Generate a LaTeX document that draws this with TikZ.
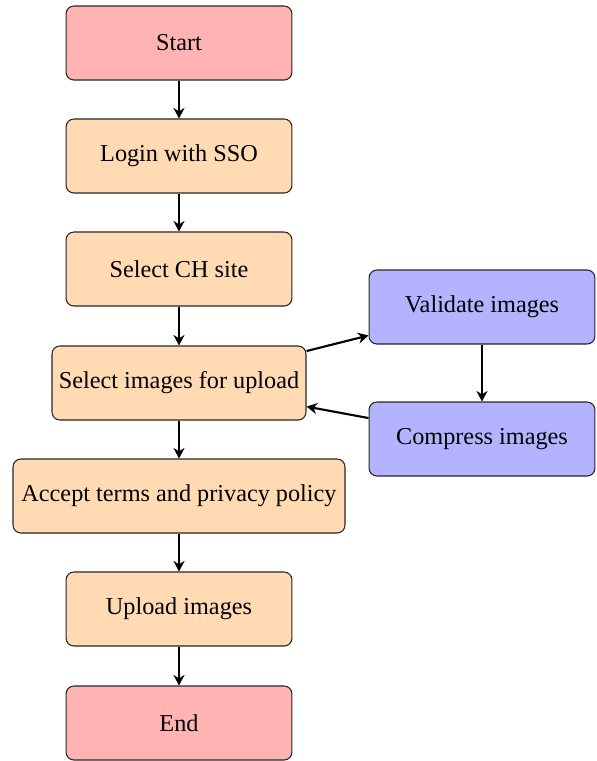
\documentclass[tikz,border=0pt]{standalone}
\usepackage{fontspec}
\setmainfont{Liberation Serif}
\usetikzlibrary{arrows.meta}
\definecolor{redbox}{RGB}{255,179,179}
\definecolor{orangebox}{RGB}{255,218,179}
\definecolor{bluebox}{RGB}{179,179,255}
\tikzset{
  basebox/.style={draw=black!85, rounded corners=3pt, minimum height=0.987cm, inner sep=0pt,
    font=\fontsize{9.2}{11}\selectfont, align=center},
  termbox/.style={basebox, fill=redbox, minimum width=3.013cm},
  procbox/.style={basebox, fill=orangebox, minimum width=3.013cm},
  sidebox/.style={basebox, fill=bluebox, minimum width=3.013cm},
  flow/.style={-{Stealth[length=4pt,width=4.2pt,inset=1.3pt]}, line width=0.8pt}
}
\begin{document}
\begin{tikzpicture}[x=0.013333cm, y=-0.013333cm]
\useasboundingbox (0,0) rectangle (597,761);
\node[termbox] (start) at (179,43) {Start};
\node[procbox] (login) at (179,156) {Login with SSO};
\node[procbox] (site) at (179,269) {Select CH site};
\node[procbox, minimum width=3.387cm] (sel) at (179,383) {Select images for upload};
\node[procbox, minimum width=4.427cm] (acc) at (179,496) {Accept terms and privacy policy};
\node[procbox] (upl) at (179,609) {Upload images};
\node[termbox] (end) at (179,723) {End};
\node[sidebox] (val) at (482,307) {Validate images};
\node[sidebox] (comp) at (482,439) {Compress images};
\draw[flow] (start) -- (login);
\draw[flow] (login) -- (site);
\draw[flow] (site) -- (sel);
\draw[flow] (sel) -- (acc);
\draw[flow] (acc) -- (upl);
\draw[flow] (upl) -- (end);
\draw[flow] (sel) -- (val);
\draw[flow] (val) -- (comp);
\draw[flow] (comp) -- (sel);
\end{tikzpicture}
\end{document}
